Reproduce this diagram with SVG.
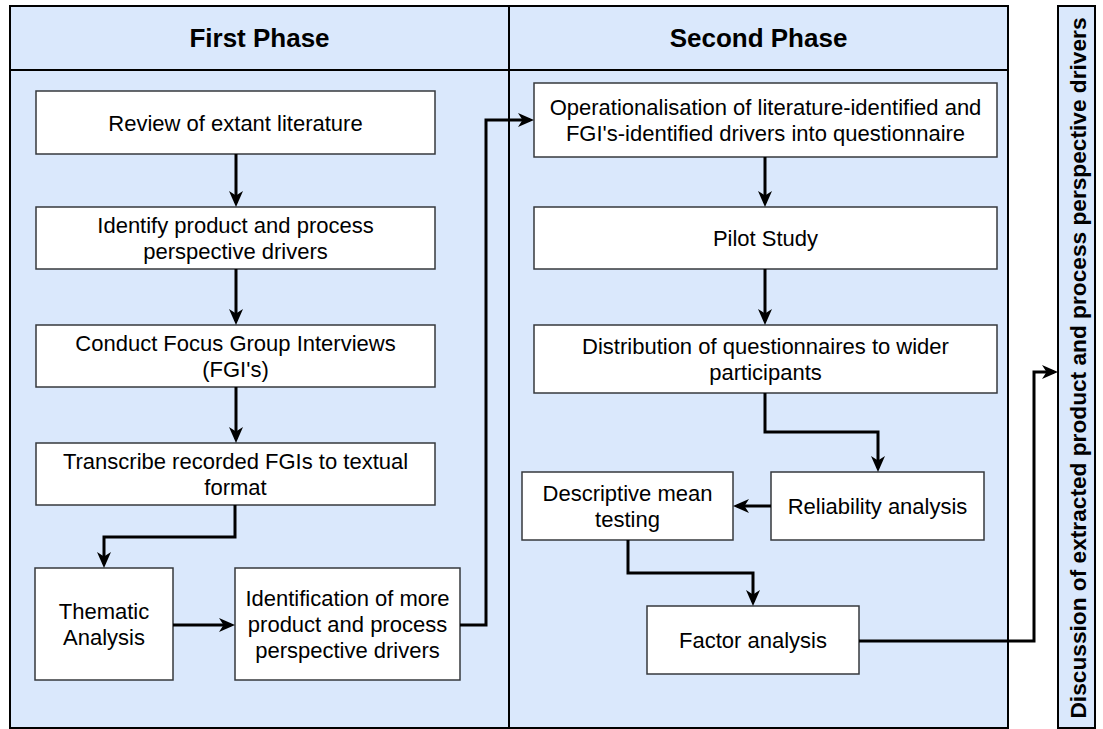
<svg xmlns="http://www.w3.org/2000/svg" width="1103" height="729" viewBox="0 0 1103 729">
<style>
.lane{fill:#dae8fc;stroke:#000;stroke-width:2}
.box{fill:#fff;stroke:#36393d;stroke-width:1.5}
.hd{font-family:"Liberation Sans",Arial,sans-serif;font-size:26px;font-weight:bold;fill:#000;text-anchor:middle}
.t{font-family:"Liberation Sans",Arial,sans-serif;font-size:22px;fill:#000;text-anchor:middle}
.vt{font-family:"Liberation Sans",Arial,sans-serif;font-size:22.7px;font-weight:bold;fill:#000;text-anchor:middle}
.c{fill:none;stroke:#000;stroke-width:3;marker-end:url(#ah)}
</style>
<defs>
<marker id="ah" markerUnits="userSpaceOnUse" markerWidth="18" markerHeight="18" viewBox="0 0 18 18" refX="12" refY="9" orient="auto">
<path d="M0,2 L16,9 L0,16 L4.5,9 z" fill="#000"/>
</marker>
</defs>
<g id="lane-first">
<rect class="lane" x="10" y="6" width="499" height="722"/>
<line x1="10" y1="70" x2="509" y2="70" stroke="#000" stroke-width="2"/>
<text class="hd" x="259.5" y="47">First Phase</text>
</g>
<g id="lane-second">
<rect class="lane" x="509" y="6" width="499" height="722"/>
<line x1="509" y1="70" x2="1008" y2="70" stroke="#000" stroke-width="2"/>
<text class="hd" x="758.5" y="47">Second Phase</text>
</g>
<g id="discussion">
<rect class="lane" x="1058" y="6" width="37" height="722"/>
<text class="vt" transform="translate(1086,368) rotate(-90)" x="0" y="0">Discussion of extracted product and process perspective drivers</text>
</g>
<g id="review">
<rect class="box" x="36" y="91" width="399" height="63"/>
<text class="t" x="235.5" y="130.5">Review of extant literature</text>
</g>
<g id="identify">
<rect class="box" x="36" y="207" width="399" height="62"/>
<text class="t" x="235.5" y="232.7">Identify product and process</text>
<text class="t" x="235.5" y="259.1">perspective drivers</text>
</g>
<g id="conduct">
<rect class="box" x="36" y="325" width="399" height="62"/>
<text class="t" x="235.5" y="350.7">Conduct Focus Group Interviews</text>
<text class="t" x="235.5" y="377.1">(FGI's)</text>
</g>
<g id="transcribe">
<rect class="box" x="36" y="443" width="399" height="62"/>
<text class="t" x="235.5" y="468.7">Transcribe recorded FGIs to textual</text>
<text class="t" x="235.5" y="495.1">format</text>
</g>
<g id="thematic">
<rect class="box" x="35" y="568" width="138" height="112"/>
<text class="t" x="104" y="618.7">Thematic</text>
<text class="t" x="104" y="645.1">Analysis</text>
</g>
<g id="identification">
<rect class="box" x="235" y="568" width="225" height="112"/>
<text class="t" x="347.5" y="605.5">Identification of more</text>
<text class="t" x="347.5" y="631.9">product and process</text>
<text class="t" x="347.5" y="658.3">perspective drivers</text>
</g>
<g id="operationalisation">
<rect class="box" x="534" y="83" width="463" height="74"/>
<text class="t" x="765.5" y="114.7">Operationalisation of literature-identified and</text>
<text class="t" x="765.5" y="141.1">FGI's-identified drivers into questionnaire</text>
</g>
<g id="pilot">
<rect class="box" x="534" y="207" width="463" height="62"/>
<text class="t" x="765.5" y="246">Pilot Study</text>
</g>
<g id="distribution">
<rect class="box" x="534" y="325" width="463" height="68"/>
<text class="t" x="765.5" y="353.7">Distribution of questionnaires to wider</text>
<text class="t" x="765.5" y="380.1">participants</text>
</g>
<g id="reliability">
<rect class="box" x="771" y="472" width="213" height="68"/>
<text class="t" x="877.5" y="514">Reliability analysis</text>
</g>
<g id="descriptive">
<rect class="box" x="522" y="472" width="211" height="68"/>
<text class="t" x="627.5" y="500.7">Descriptive mean</text>
<text class="t" x="627.5" y="527.1">testing</text>
</g>
<g id="factor">
<rect class="box" x="647" y="606" width="212" height="68"/>
<text class="t" x="753" y="648">Factor analysis</text>
</g>
<g id="connectors">
<path class="c" d="M236,154 V203"/>
<path class="c" d="M236,269 V321"/>
<path class="c" d="M236,387 V439"/>
<path class="c" d="M235,505 V537 H104 V564"/>
<path class="c" d="M173,625 H231"/>
<path class="c" d="M460,625 H486 V120 H530"/>
<path class="c" d="M765,157 V203"/>
<path class="c" d="M765,269 V321"/>
<path class="c" d="M765,393 V432 H878 V468"/>
<path class="c" d="M771,506 H737"/>
<path class="c" d="M628,540 V573 H753 V602"/>
<path class="c" d="M859,641 H1034 V372 H1054"/>
</g>
</svg>
